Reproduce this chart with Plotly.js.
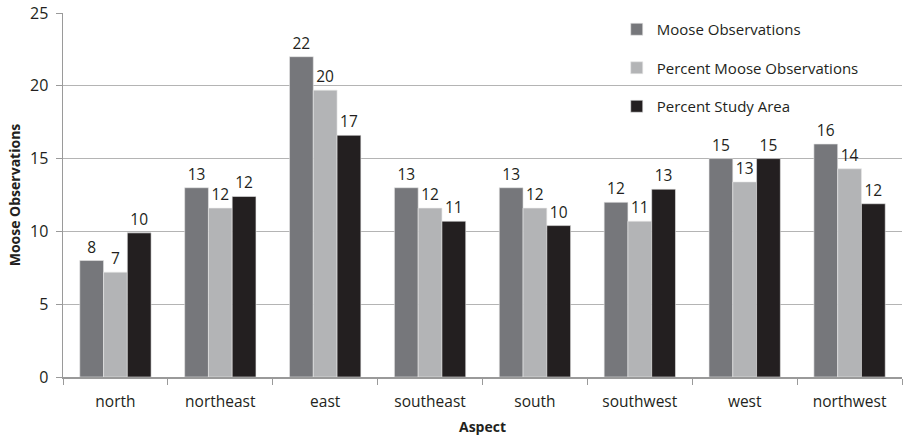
<!DOCTYPE html>
<html>
<head>
<meta charset="utf-8">
<script src="https://cdn.plot.ly/plotly-3.0.1.min.js"></script>
<style>html,body{margin:0;padding:0;background:#fff;}#chart{width:905px;height:443px;}</style>
</head>
<body>
<div id="chart"></div>
<script>
const categories = ["north","northeast","east","southeast","south","southwest","west","northwest"];
const mooseObs = [8, 13, 22, 13, 13, 12, 15, 16];
const pctMooseObs = [7.2, 11.6, 19.7, 11.6, 11.6, 10.7, 13.4, 14.3];
const pctStudyArea = [9.9, 12.4, 16.6, 10.7, 10.4, 12.9, 15.0, 11.9];
const seriesNames = ["Moose Observations", "Percent Moose Observations", "Percent Study Area"];
const colors = ["#76777b", "#b3b4b6", "#231f20"];

const font = "Open Sans, Liberation Sans, sans-serif";
const data = [mooseObs, pctMooseObs, pctStudyArea].map((vals, i) => ({
  type: "bar",
  x: categories,
  y: vals,
  name: seriesNames[i],
  legendgroup: "g" + i,
  marker: {color: colors[i], line: {color: "#e8e8e8", width: 0.6}},
  text: vals,
  texttemplate: "%{y:.0f}",
  textposition: "outside",
  cliponaxis: false,
  textfont: {family: font, size: 15.5, color: "#231f20"},
  hoverinfo: "none"
}));

const layout = {
  width: 905, height: 443,
  margin: {l: 63, r: 3, t: 13, b: 66},
  paper_bgcolor: "#fff", plot_bgcolor: "#fff",
  barmode: "group", bargap: 0.32, bargroupgap: 0,
  font: {family: font, size: 15, color: "#231f20"},
  xaxis: {
    type: "category",
    showline: true, linecolor: "#9a9a9a", linewidth: 1.5,
    ticks: "outside", tickson: "boundaries", ticklen: 6, tickcolor: "#9a9a9a",
    ticklabelstandoff: 10,
    tickfont: {family: font, size: 15.5, color: "#231f20"},
    title: {text: "<b>Aspect</b>", font: {family: font, size: 14, color: "#231f20"}, standoff: 11},
    showgrid: false, fixedrange: true
  },
  yaxis: {
    range: [0, 25], dtick: 5,
    showline: true, linecolor: "#9a9a9a", linewidth: 1.5,
    ticks: "outside", ticklen: 6, tickcolor: "#9a9a9a",
    ticklabelstandoff: 4,
    showgrid: true, gridcolor: "#b4b4b4", gridwidth: 1,
    zeroline: false,
    tickfont: {family: font, size: 16, color: "#231f20"},
    title: {text: "<b>Moose Observations</b>", font: {family: font, size: 14, color: "#231f20"}, standoff: 6},
    fixedrange: true
  },
  legend: {
    x: 0.66, y: 1.0, xanchor: "left", yanchor: "top",
    bgcolor: "rgba(0,0,0,0)",
    traceorder: "grouped",
    tracegroupgap: 16,
    itemwidth: 30,
    font: {family: font, size: 15, color: "#231f20"}
  },
  showlegend: true
};

Plotly.newPlot("chart", data, layout, {displayModeBar: false, staticPlot: true});
</script>
</body>
</html>
